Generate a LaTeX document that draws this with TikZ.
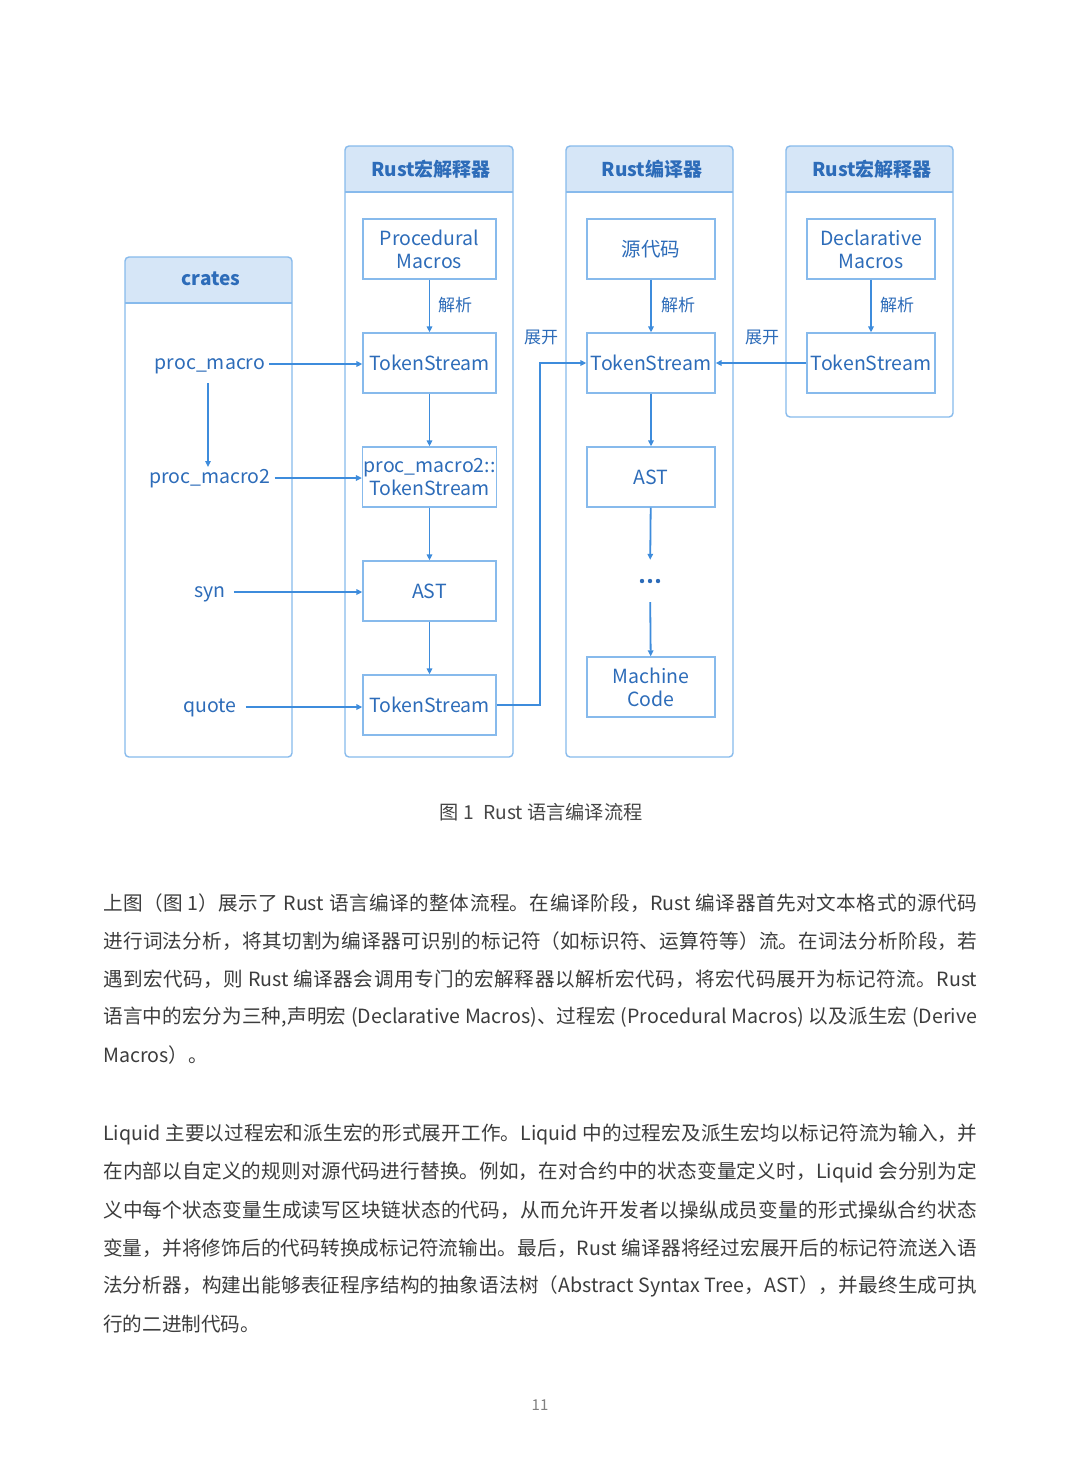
\documentclass[tikz,border=0pt]{standalone}
\usepackage{fontspec}
\setmainfont{Noto Sans CJK SC}
\usetikzlibrary{arrows.meta}
\XeTeXlinebreaklocale "zh"
\XeTeXlinebreakskip=0pt plus 2pt
\definecolor{txtblue}{RGB}{45,108,185}
\definecolor{linecol}{RGB}{62,140,220}
\definecolor{bordercol}{RGB}{135,186,236}
\definecolor{hdrfill}{RGB}{214,230,247}
\definecolor{bodytxt}{RGB}{60,60,60}
\definecolor{captxt}{RGB}{70,70,70}
\begin{document}
\begin{tikzpicture}[x=1pt,y=-1pt,
  inbox/.style={draw=bordercol,line width=1.3pt,text=txtblue,align=center,
    font=\fontsize{19.5}{23}\selectfont,minimum height=60pt,inner sep=1pt},
  boxA/.style={inbox,minimum width=133pt},
  boxB/.style={inbox,minimum width=128pt},
  lbl/.style={text=txtblue,font=\fontsize{19.5}{23}\selectfont,inner sep=4pt,
    text height=15pt,text depth=4.6pt},
  small/.style={text=txtblue,font=\fontsize{17}{20}\selectfont,inner sep=1pt},
  hdrtext/.style={text=txtblue,font=\fontsize{19}{23}\selectfont\bfseries,inner sep=1pt},
  arr/.style={draw=linecol,line width=1.8pt,-{Triangle[length=6pt,width=5.5pt]}},
  cont/.style={draw=bordercol,line width=1.4pt,rounded corners=4pt},
  bodyline/.style={anchor=west,inner sep=0pt,text width=874pt,align=justify,text=bodytxt,
    font=\fontsize{19.6}{24}\selectfont},
  lastline/.style={anchor=west,inner sep=0pt,text=bodytxt,font=\fontsize{19.6}{24}\selectfont}
]
\useasboundingbox (0,0) rectangle (1080,1465);
\fill[white] (0,0) rectangle (1080,1465);

% containers
\foreach \xa/\xb/\ya/\yb in {125/292/257/757,345/513/146/757,566/733/146/757,786/953/146/417}{
  \fill[hdrfill,rounded corners=4pt] (\xa,\ya) rectangle (\xb,\ya+46);
  \fill[hdrfill] (\xa,\ya+30) rectangle (\xb,\ya+46);
  \draw[cont] (\xa,\ya) rectangle (\xb,\yb);
  \draw[draw=bordercol,line width=1.4pt] (\xa,\ya+46) -- (\xb,\ya+46);
}
\node[hdrtext] (hcrates) at (211,279) {crates};
\node[hdrtext] (hmac1) at (431,169) {Rust宏解释器};
\node[hdrtext] (hcomp) at (652,169) {Rust编译器};
\node[hdrtext] (hmac2) at (872,169) {Rust宏解释器};

% crates labels
\node[lbl] (pm) at (210,364) {proc\_macro};
\node[lbl] (pm2) at (210,478) {proc\_macro2};
\node[lbl] (syn) at (210,592) {syn};
\node[lbl] (quote) at (210,707) {quote};

% column 1
\node[boxA] (proc) at (429.5,249) {Procedural\\Macros};
\node[boxA] (ts1) at (429.5,363) {TokenStream};
\node[boxA] (pts) at (429.5,477) {proc\_macro2::\\TokenStream};
\node[boxA] (ast1) at (429.5,591) {AST};
\node[boxA] (ts4) at (429.5,705) {TokenStream};

% column 2
\node[boxB] (src) at (651,249) {源代码};
\node[boxB] (ts2) at (651,363) {TokenStream};
\node[boxB] (ast2) at (651,477) {AST};
\node[minimum height=42pt,minimum width=24pt,inner sep=0pt] (dots) at (650,581) {};
\foreach \dx in {-8,0,8}{\fill[txtblue] ([xshift=\dx pt]dots.center) circle (2.2pt);}
\node[boxB] (mc) at (651,687) {Machine\\Code};

% column 3
\node[boxB] (decl) at (871,249) {Declarative\\Macros};
\node[boxB] (ts3) at (871,363) {TokenStream};

% small labels
\node[small] (jx1) at (455,305) {解析};
\node[small] (jx2) at (678,305) {解析};
\node[small] (jx3) at (897,305) {解析};
\node[small] (zk1) at (541,337) {展开};
\node[small] (zk2) at (762,337) {展开};

% arrows
\draw[arr] (pm.east) -- (ts1.west |- pm.east);
\draw[arr] (pm2.east) -- (pts.west |- pm2.east);
\draw[arr] (syn.east) ++(4,0) -- (ast1.west |- syn.east);
\draw[arr] (quote.east) ++(5,0) -- (ts4.west |- quote.east);
\draw[arr] (pm.south) ++(-2,5) -- ([xshift=-2pt,yshift=-3pt]pm2.north);
\draw[arr] (proc) -- (ts1);
\draw[arr] (ts1) -- (pts);
\draw[arr] (pts) -- (ast1);
\draw[arr] (ast1) -- (ts4);
\draw[arr] (src) -- (ts2);
\draw[arr] (ts2) -- (ast2);
\draw[arr] (ast2) -- (dots);
\draw[arr] (dots) -- (mc);
\draw[arr] (decl) -- (ts3);
\draw[arr] (ts3) -- (ts2);
\draw[arr] (ts4.east) -- ++(43,0) |- (ts2.west);

% caption
\node[text=captxt,font=\fontsize{19.2}{22}\selectfont,inner sep=0pt] (cap) at (541,812) {图 1\hspace{0.5em}Rust 语言编译流程};

% paragraph 1
\node[bodyline] (p1a) at (103,903) {\parfillskip=0pt\relax 上图（图 1）展示了 Rust 语言编译的整体流程。在编译阶段，Rust 编译器首先对文本格式的源代码\par};
\node[bodyline] (p1b) at (103,941) {\parfillskip=0pt\relax 进行词法分析，将其切割为编译器可识别的标记符（如标识符、运算符等）流。在词法分析阶段，若\par};
\node[bodyline] (p1c) at (103,979) {\parfillskip=0pt\relax 遇到宏代码，则 Rust 编译器会调用专门的宏解释器以解析宏代码，将宏代码展开为标记符流。Rust\par};
\node[bodyline] (p1d) at (103,1017) {\parfillskip=0pt\relax 语言中的宏分为三种,声明宏 (Declarative Macros)、过程宏 (Procedural Macros) 以及派生宏 (Derive\par};
\node[lastline] (p1e) at (103,1055) {Macros）。};

% paragraph 2
\node[bodyline] (p2a) at (103,1134) {\parfillskip=0pt\relax Liquid 主要以过程宏和派生宏的形式展开工作。Liquid 中的过程宏及派生宏均以标记符流为输入，并\par};
\node[bodyline] (p2b) at (103,1172) {\parfillskip=0pt\relax 在内部以自定义的规则对源代码进行替换。例如，在对合约中的状态变量定义时，Liquid 会分别为定\par};
\node[bodyline] (p2c) at (103,1210) {\parfillskip=0pt\relax 义中每个状态变量生成读写区块链状态的代码，从而允许开发者以操纵成员变量的形式操纵合约状态\par};
\node[bodyline] (p2d) at (103,1248) {\parfillskip=0pt\relax 变量，并将修饰后的代码转换成标记符流输出。最后，Rust 编译器将经过宏展开后的标记符流送入语\par};
\node[bodyline] (p2e) at (103,1286) {\parfillskip=0pt\relax 法分析器，构建出能够表征程序结构的抽象语法树（Abstract Syntax Tree，AST），并最终生成可执\par};
\node[lastline] (p2f) at (103,1324) {行的二进制代码。};

% page number
\node[text=gray,font=\fontsize{15}{18}\selectfont,inner sep=0pt] (pg) at (540,1405) {11};
\end{tikzpicture}
\end{document}
